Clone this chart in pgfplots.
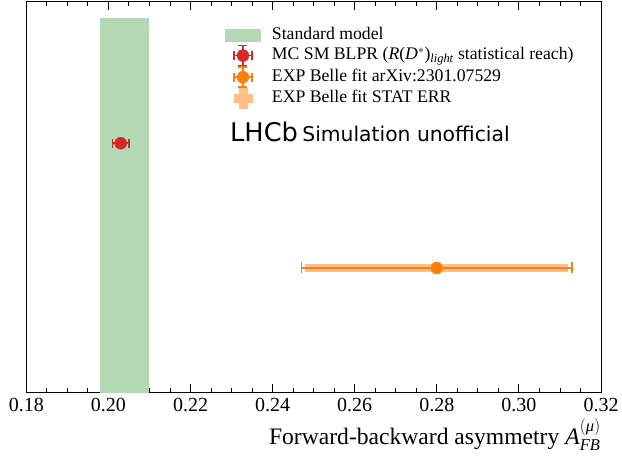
\documentclass[border=0pt]{standalone}
\usepackage{amsmath}
\usepackage{pgfplots}
\pgfplotsset{compat=1.18}
\usepackage{fontspec}
\setmainfont{Liberation Serif}
\newfontfamily\dejavu{DejaVu Sans}
\definecolor{smgreen}{RGB}{180,216,177}
\definecolor{mcred}{RGB}{214,39,40}
\definecolor{exporange}{RGB}{255,127,14}
\definecolor{statorange}{RGB}{255,191,134}
\begin{document}
\begin{tikzpicture}
\begin{axis}[
  scale only axis,
  width=574.7pt, height=391.7pt,
  xmin=0.18, xmax=0.32, ymin=0, ymax=3.14,
  xtick={0.18,0.20,0.22,0.24,0.26,0.28,0.30,0.32},
  minor x tick num=3,
  ytick=\empty,
  tick align=inside,
  major tick length=9pt, minor tick length=5pt,
  axis line style={line width=1pt},
  every tick/.style={black, line width=0.9pt},
  xticklabel style={/pgf/number format/fixed, /pgf/number format/precision=2,
     /pgf/number format/fixed zerofill, /pgf/number format/assume math mode=true,
     font=\fontsize{20}{24}\selectfont, yshift=-2pt},
  scaled x ticks=false,
  xlabel={Forward-backward asymmetry \textit{A}$^{(\textit{μ})}_{\textit{FB}}$},
  xlabel style={at={(rel axis cs:1,0)}, anchor=base east, yshift=-52pt, inner sep=0pt,
     font=\fontsize{23.6}{27}\selectfont},
  legend cell align=left,
  legend style={draw=none, fill=none, at={(axis cs:0.2283,2.943)}, anchor=north west,
     font=\fontsize{17.7}{20}\selectfont, row sep=0pt, inner sep=0pt,
     nodes={inner sep=2pt, text height=11.5pt, text depth=3.5pt}},
]
% Standard model band
\addplot[fill=smgreen, draw=none, forget plot] coordinates {(0.198,3) (0.210,3)} \closedcycle;
% MC SM BLPR
\addplot[only marks, mark=*, mark size=6pt, mcred, mark options={draw=mcred, fill=mcred}, forget plot,
  error bars/.cd, x dir=both, x explicit,
  error bar style={line width=1.6pt, mcred},
  error mark options={rotate=90, mark size=4.5pt, line width=1.6pt, mcred}]
  coordinates {(0.203,2) +- (0.002,0)};
% EXP stat error band
\addplot[only marks, mark=none, forget plot,
  error bars/.cd, x dir=both, x explicit,
  error bar style={line width=8pt, statorange},
  error mark=none]
  coordinates {(0.28,1) +- (0.032,0)};
% EXP Belle fit total
\addplot[only marks, mark=*, mark size=6pt, mark options={draw=exporange, fill=exporange}, forget plot,
  error bars/.cd, x dir=both, x explicit,
  error bar style={line width=2.5pt, exporange},
  error mark options={rotate=90, mark size=5.5pt, line width=1.6pt, exporange}]
  coordinates {(0.28,1) +- (0.033,0)};
% legend entries
\addlegendimage{legend image code/.code={\fill[smgreen] (0pt,-6pt) rectangle (35pt,6pt); \path[draw=none, fill=none] (0pt,0pt) -- (45pt,0pt);}}
\addlegendentry{Standard model}
\addlegendimage{legend image code/.code={
  \draw[mcred, line width=1.6pt] (9pt,0pt) -- (27pt,0pt);
  \draw[mcred, line width=1.6pt] (9pt,-4.5pt) -- (9pt,4.5pt);
  \draw[mcred, line width=1.6pt] (27pt,-4.5pt) -- (27pt,4.5pt);
  \draw[mcred, line width=1.6pt] (18pt,-10pt) -- (18pt,10pt);
  \draw[mcred, line width=1.6pt] (13.5pt,-10pt) -- (22.5pt,-10pt);
  \draw[mcred, line width=1.6pt] (13.5pt,10pt) -- (22.5pt,10pt);
  \fill[mcred] (18pt,0pt) circle (6pt);}}
\addlegendentry{MC SM BLPR (\textit{R}(\textit{D}$^{*}$)$_{\textit{light}}$ statistical reach)}
\addlegendimage{legend image code/.code={
  \draw[exporange, line width=1.6pt] (9pt,0pt) -- (27pt,0pt);
  \draw[exporange, line width=1.6pt] (9pt,-4.5pt) -- (9pt,4.5pt);
  \draw[exporange, line width=1.6pt] (27pt,-4.5pt) -- (27pt,4.5pt);
  \draw[exporange, line width=1.6pt] (18pt,-10pt) -- (18pt,10pt);
  \draw[exporange, line width=1.6pt] (13.5pt,-10pt) -- (22.5pt,-10pt);
  \draw[exporange, line width=1.6pt] (13.5pt,10pt) -- (22.5pt,10pt);
  \fill[exporange] (18pt,0pt) circle (6pt);}}
\addlegendentry{EXP Belle fit arXiv:2301.07529}
\addlegendimage{legend image code/.code={
  \fill[statorange] (9pt,-4pt) rectangle (27pt,4pt);
  \fill[statorange] (14pt,-10pt) rectangle (22pt,-4pt);
  \fill[statorange] (14pt,4pt) rectangle (22pt,10pt);}}
\addlegendentry{EXP Belle fit STAT ERR}
% LHCb label
\node[anchor=base west, inner sep=0pt, font=\dejavu\fontsize{25.7}{30}\selectfont] (lhcb) at (axis cs:0.2296,2.012) {LHCb};
\node[anchor=base west, inner sep=0pt, font=\dejavu\fontsize{20.3}{24}\selectfont] at ([xshift=4pt]lhcb.base east) {Simulation unofficial};
\end{axis}
\pgfresetboundingbox
\path ([shift={(-26.3pt,-66.3pt)}]current axis.south west) rectangle ([shift={(21pt,1pt)}]current axis.north east);
\end{tikzpicture}
\end{document}
